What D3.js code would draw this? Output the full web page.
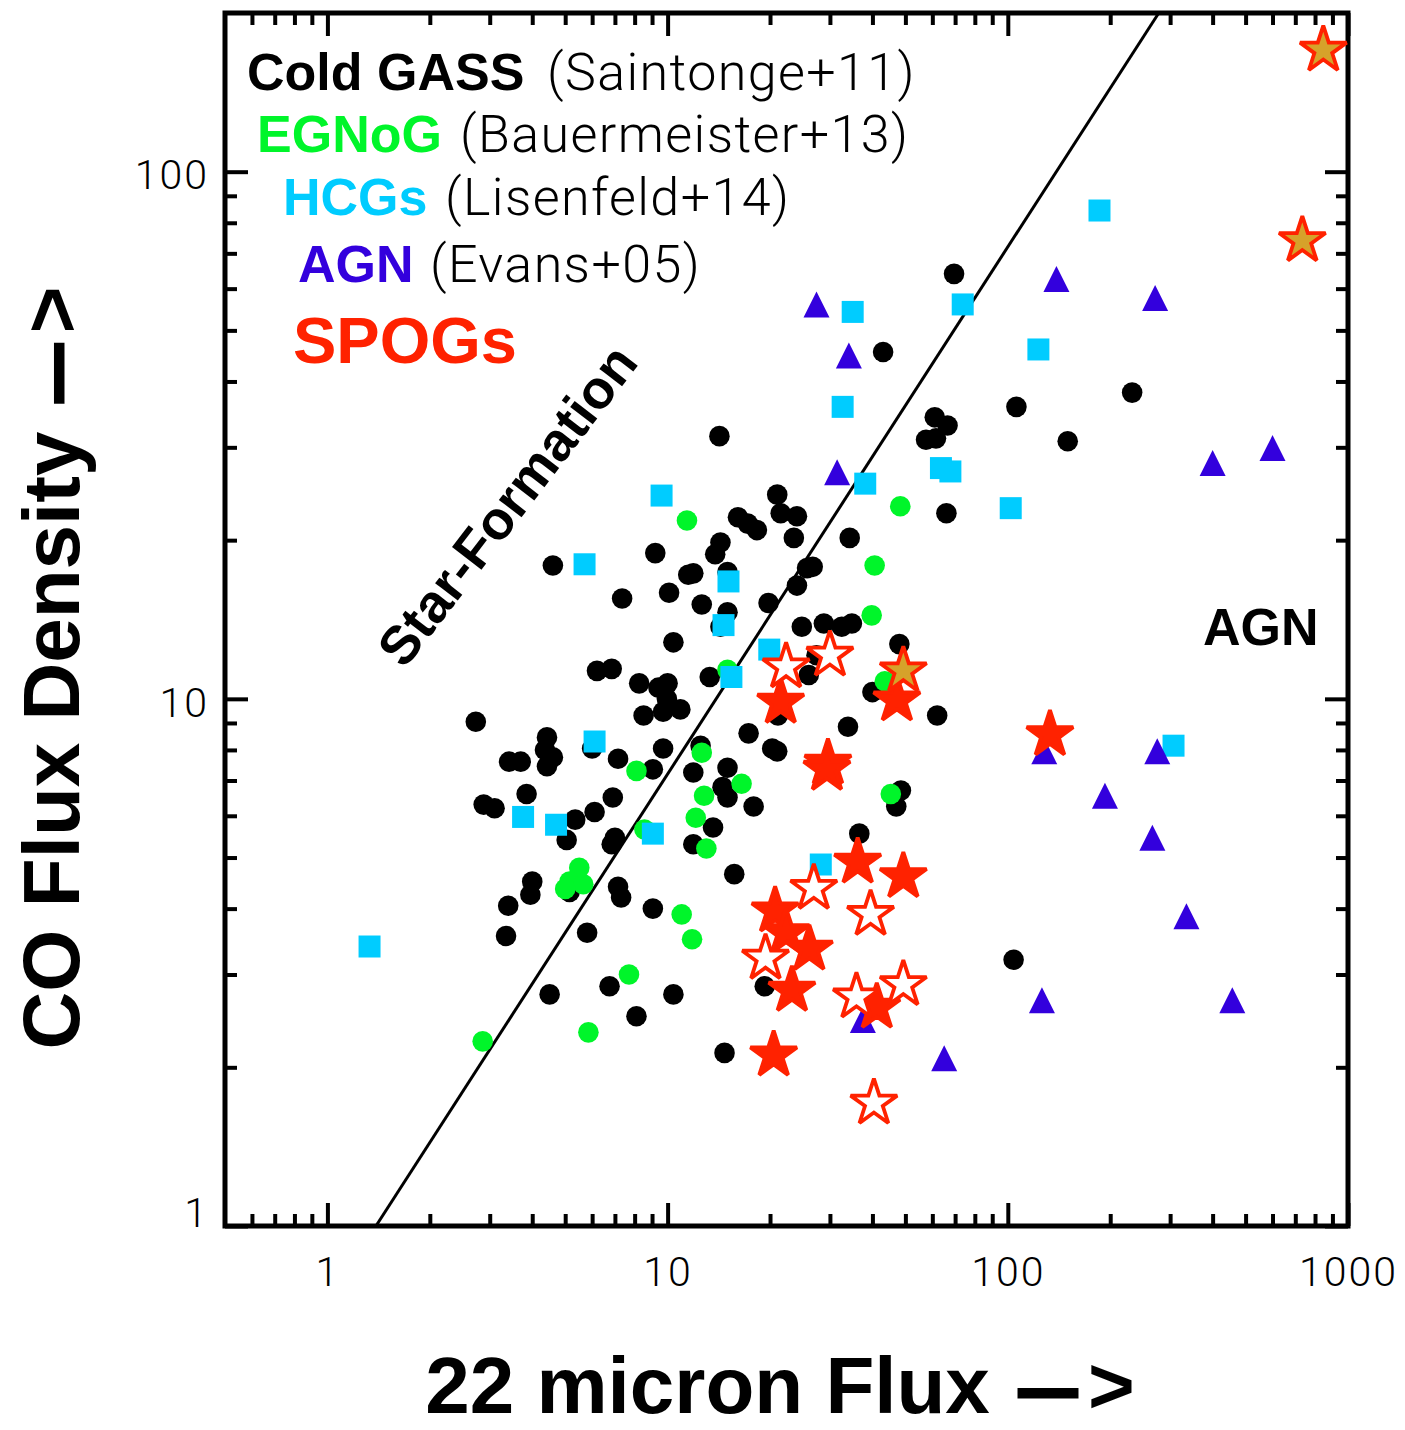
<!DOCTYPE html>
<html><head><meta charset="utf-8">
<script src="https://cdn.jsdelivr.net/npm/d3@7"></script>
<style>body{margin:0;background:#fff}</style>
</head><body><svg id="c" width="1405" height="1430"></svg>
<script>
// ---------- data (22 micron flux, CO flux density) ----------
const coldGass = [[14.2,31.5],[14.3,19.8],[13.8,18.8],[9.2,18.9],[4.6,17.9],[11.9,17.3],[11.5,17.2],[15.0,17.4],[10.1,15.9],[7.35,15.5],[12.6,15.1],[15.0,14.6],[14.3,13.7],[10.4,12.8],[6.2,11.3],[6.85,11.4],[13.3,11.0],[8.25,10.7],[9.4,10.5],[10.0,10.7],[9.95,10.0],[8.5,9.3],[9.7,9.45],[10.9,9.55],[2.73,9.05],[4.42,8.45],[4.36,8.0],[4.6,7.75],[4.42,7.45],[3.42,7.6],[3.7,7.6],[6.0,8.05],[7.15,7.7],[9.05,7.35],[9.7,8.05],[12.5,8.15],[15.0,7.4],[11.9,7.25],[14.5,6.8],[15.0,6.5],[3.85,6.6],[2.88,6.3],[3.1,6.2],[5.35,5.9],[5.05,5.4],[6.1,6.1],[6.9,6.5],[7.0,5.45],[6.85,5.3],[13.6,5.7],[11.9,5.3],[15.7,4.65],[5.15,4.3],[4.0,4.5],[3.95,4.25],[3.4,4.05],[3.35,3.55],[5.8,3.6],[7.15,4.4],[7.3,4.2],[9.05,4.0],[6.75,2.85],[4.5,2.75],[10.4,2.75],[8.1,2.5],[14.7,2.13],[69.5,64],[43,45.5],[106,35.8],[61,34.2],[66.5,33],[57.5,31],[61.5,31.2],[150,30.8],[66,22.5],[21,24.4],[21.5,22.5],[24,22.2],[16.1,22.1],[17.2,21.5],[18.3,20.9],[23.5,20.2],[34.3,20.2],[25.7,17.7],[26.7,17.8],[24,16.4],[19.8,15.2],[24.8,13.7],[28.8,13.9],[32.5,13.7],[34.8,13.9],[48,12.7],[26,11.1],[27.4,12.1],[40,10.3],[21.1,9.3],[62,9.3],[33.9,8.85],[17.3,8.6],[20.3,8.05],[21,7.95],[17.9,6.25],[48.5,6.7],[47,6.25],[36.6,5.55],[19.3,2.85],[104,3.2],[232,38.1]];
const egnog = [[11.4,21.8],[15.0,11.35],[8.1,7.3],[12.6,7.9],[12.8,6.55],[16.5,6.9],[8.55,5.65],[12.1,5.95],[13.0,5.2],[5.5,4.78],[5.15,4.5],[5.65,4.45],[5.0,4.36],[11.0,3.9],[11.8,3.5],[7.7,3.0],[5.85,2.33],[2.86,2.24],[48.3,23.2],[40.6,17.9],[39.8,14.4],[43.5,10.8],[45.3,6.6]];
const hcgs = [[9.6,24.3],[5.7,18.0],[15.1,16.7],[14.6,13.8],[15.4,11.0],[6.1,8.3],[3.76,5.97],[4.7,5.77],[9.05,5.55],[1.33,3.39],[35,54.2],[73.7,56],[123,46],[32.7,35.8],[38.1,25.6],[63.6,27.4],[67.8,27.0],[102,23.0],[19.9,12.4],[28.2,4.85],[186,84.4],[307,8.15]];
const agn = [[139,62.6],[27.4,56],[34.1,44.8],[31.5,26.9],[271,57.6],[400,28],[600,29.9],[128,7.95],[275,7.95],[193,6.55],[266,5.45],[335,3.87],[126,2.68],[457,2.68],[37.5,2.46],[65,2.08]];
const spogsFilled = [[21.5,9.85],[47.2,9.95],[133,8.55],[29.6,7.55],[29.4,7.35],[36.2,4.9],[49.3,4.6],[20.7,3.96],[22.3,3.6],[26.1,3.35],[23.2,2.8],[41.2,2.6],[20.5,2.11]];
const spogsOpen = [[22.3,11.5],[30,12.1],[26.9,4.37],[39.5,3.9],[19.4,3.22],[35.9,2.72],[49.3,2.87],[40.4,1.71]];
const spogsGold = [[49.3,11.3],[846,170],[734,74]];

const sfRatio = 0.72;               // star-formation relation: CO = 0.72 * F22
const xDomain = [0.5, 1000];
const yDomain = [1, 200];
const xMajor = [1, 10, 100, 1000];
const xMinor = [0.6,0.7,0.8,0.9,2,3,4,5,6,7,8,9,20,30,40,50,60,70,80,90,200,300,400,500,600,700,800,900];
const yMajor = [1, 10, 100];
const yMinor = [2,3,4,5,6,7,8,9,20,30,40,50,60,70,80,90];

const legendNames = ["Cold GASS", "EGNoG", "HCGs", "AGN"];
const legendRefs = ["(Saintonge+11)", "(Bauermeister+13)", "(Lisenfeld+14)", "(Evans+05)"];

// ---------- styling ----------
const C = {black:"#000000", green:"#00f52a", cyan:"#00ccff", blue:"#3300dd", red:"#ff2200", gold:"#d6a22a"};
const legendColors = [C.black, C.green, C.cyan, C.blue];
const legendX = [247, 257, 283, 298];
const legendRefX = [547, 460, 445, 430];
const legendY = [90, 152, 215, 282];
const BOLD = "'Liberation Sans', Arial, Helvetica, sans-serif";
const LIGHT = "Roboto, Lato, 'Liberation Sans', sans-serif";

const svg = d3.select("#c");
const x = d3.scaleLog().domain(xDomain).range([225, 1348]);
const y = d3.scaleLog().domain(yDomain).range([1226, 13]);
const [X0, X1] = x.range(), [Y0, Y1] = y.range();

// ---------- axes ----------
function styleAxis(g){
  g.select(".domain").remove();
  g.selectAll(".tick line").attr("stroke","#000").attr("stroke-width",4);
  g.attr("font-family", LIGHT).attr("font-weight",300).attr("font-size",41);
  g.selectAll(".tick text").attr("fill","#000").attr("letter-spacing","2px");
}
svg.append("g").attr("transform",`translate(0,${Y0})`)
  .call(d3.axisBottom(x).tickValues(xMajor).tickSize(-23).tickSizeOuter(0).tickPadding(31).tickFormat(d3.format("d"))).call(styleAxis);
svg.append("g").attr("transform",`translate(0,${Y0})`)
  .call(d3.axisBottom(x).tickValues(xMinor).tickSize(-12).tickSizeOuter(0).tickFormat("")).call(styleAxis);
svg.append("g").attr("transform",`translate(0,${Y1})`)
  .call(d3.axisTop(x).tickValues(xMajor).tickSize(-23).tickSizeOuter(0).tickFormat("")).call(styleAxis);
svg.append("g").attr("transform",`translate(0,${Y1})`)
  .call(d3.axisTop(x).tickValues(xMinor).tickSize(-12).tickSizeOuter(0).tickFormat("")).call(styleAxis);
const yl = svg.append("g").attr("transform",`translate(${X0},0)`)
  .call(d3.axisLeft(y).tickValues(yMajor).tickSize(-23).tickSizeOuter(0).tickPadding(16).tickFormat(d3.format("d"))).call(styleAxis);
yl.selectAll(".tick text").attr("dy", d => d === 1 ? "0.02em" : "0.42em");
svg.append("g").attr("transform",`translate(${X0},0)`)
  .call(d3.axisLeft(y).tickValues(yMinor).tickSize(-12).tickSizeOuter(0).tickFormat("")).call(styleAxis);
svg.append("g").attr("transform",`translate(${X1},0)`)
  .call(d3.axisRight(y).tickValues(yMajor).tickSize(-23).tickSizeOuter(0).tickFormat("")).call(styleAxis);
svg.append("g").attr("transform",`translate(${X1},0)`)
  .call(d3.axisRight(y).tickValues(yMinor).tickSize(-12).tickSizeOuter(0).tickFormat("")).call(styleAxis);

svg.append("rect").attr("x",X0).attr("y",Y1).attr("width",X1-X0).attr("height",Y0-Y1)
  .attr("fill","none").attr("stroke","#000").attr("stroke-width",5);

// ---------- star-formation line ----------
const sfX = [yDomain[0]/sfRatio, yDomain[1]/sfRatio];
svg.append("line")
  .attr("x1", x(sfX[0])).attr("y1", y(sfX[0]*sfRatio))
  .attr("x2", x(sfX[1])).attr("y2", y(sfX[1]*sfRatio))
  .attr("stroke","#000").attr("stroke-width",3);

// ---------- markers ----------
const pts = svg.append("g");
pts.selectAll("circle.cg").data(coldGass).join("circle").attr("class","cg")
  .attr("cx",d=>x(d[0])).attr("cy",d=>y(d[1])).attr("r",10.3).attr("fill",C.black);
pts.selectAll("circle.eg").data(egnog).join("circle").attr("class","eg")
  .attr("cx",d=>x(d[0])).attr("cy",d=>y(d[1])).attr("r",10.3).attr("fill",C.green);
const sq = d3.symbol(d3.symbolSquare, 22*22);
pts.selectAll("path.hc").data(hcgs).join("path").attr("class","hc")
  .attr("d",sq).attr("transform",d=>`translate(${x(d[0])},${y(d[1])})`).attr("fill",C.cyan);
const tri = "M0,-13L13,13L-13,13Z";
pts.selectAll("path.ag").data(agn).join("path").attr("class","ag")
  .attr("d",tri).attr("transform",d=>`translate(${x(d[0])},${y(d[1])})`).attr("fill",C.blue);
const R = 24.5;
const star = d3.symbol(d3.symbolStar, R*R/0.8908130915292852);
function stars(data, cls, fill){
  pts.selectAll("path."+cls).data(data).join("path").attr("class",cls)
    .attr("d",star).attr("transform",d=>`translate(${x(d[0])},${y(d[1])})`)
    .attr("fill",fill).attr("stroke",C.red).attr("stroke-width",3.8)
    .attr("stroke-linejoin","miter").attr("stroke-miterlimit",2);
}
stars(spogsFilled, "sf", C.red);
stars(spogsOpen, "so", "#ffffff");
stars(spogsGold, "sg", C.gold);

// ---------- annotations ----------
const lg = svg.append("g").attr("font-size",52);
legendNames.forEach((n,i)=>{
  const t = lg.append("text").attr("y",legendY[i]);
  t.append("tspan").attr("x",legendX[i]).attr("font-family",BOLD).attr("font-weight","bold").attr("fill",legendColors[i]).text(n);
  t.append("tspan").attr("x",legendRefX[i]).attr("font-family",LIGHT).attr("font-weight",300)
    .attr("letter-spacing","1.4px").attr("fill","#000").text(legendRefs[i]);
});
svg.append("text").attr("x",293).attr("y",363).attr("font-family",BOLD).attr("font-weight","bold")
  .attr("font-size",65).attr("fill",C.red).text("SPOGs");

svg.append("text").attr("transform","translate(507,505) rotate(-52.5)")
  .attr("text-anchor","middle").attr("dominant-baseline","central")
  .attr("font-family",BOLD).attr("font-weight","bold").attr("font-size",54).text("Star-Formation");
svg.append("text").attr("x",1203).attr("y",645).attr("font-family",BOLD).attr("font-weight","bold")
  .attr("font-size",52).text("AGN");

function arrowTitle(sel, label){
  sel.attr("text-anchor","middle").attr("font-family",BOLD).attr("font-weight","bold").attr("font-size",80);
  sel.append("tspan").text(label + " ");
  sel.append("tspan").attr("font-size",56).attr("dx",8).attr("dy",-5)
    .attr("stroke","#000").attr("stroke-width",5).text("\u2014");
  sel.append("tspan").attr("dx",12).attr("dy",5).text(">");
}
svg.append("text").attr("x",780).attr("y",1413).call(arrowTitle, "22 micron Flux");
svg.append("text").attr("transform","translate(79,668) rotate(-90)").call(arrowTitle, "CO Flux Density");
</script></body></html>
